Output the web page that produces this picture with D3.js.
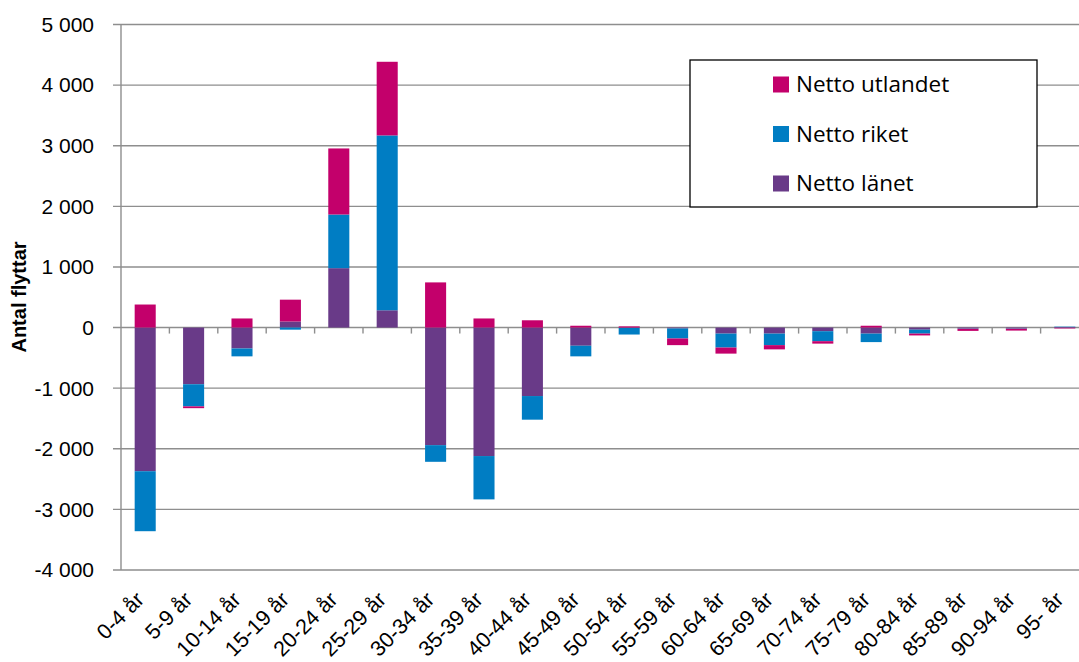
<!DOCTYPE html>
<html><head><meta charset="utf-8">
<script src="https://cdn.jsdelivr.net/npm/d3@7"></script>
<style>body{margin:0;background:#fff}svg{display:block}text{font-family:"Liberation Sans",Arial,sans-serif}</style>
</head><body>
<svg id="c" width="1079" height="662"></svg>
<script>
const categories = ["0-4 år","5-9 år","10-14 år","15-19 år","20-24 år","25-29 år","30-34 år","35-39 år","40-44 år","45-49 år","50-54 år","55-59 år","60-64 år","65-69 år","70-74 år","75-79 år","80-84 år","85-89 år","90-94 år","95- år"];
const nettoLanet    = [-2370,-935,-345,100,980,285,-1940,-2120,-1130,-300,-5,-15,-100,-100,-60,-100,-35,-15,-15,0];
const nettoRiket    = [-990,-365,-130,-35,885,2885,-275,-715,-390,-175,-110,-165,-230,-190,-165,-140,-65,-5,-5,15];
const nettoUtlandet = [380,-30,150,360,1090,1215,745,150,120,30,20,-110,-100,-70,-40,30,-30,-35,-30,-15];
const yTicks = [-4000,-3000,-2000,-1000,0,1000,2000,3000,4000,5000];
const seriesNames = ["Netto länet","Netto riket","Netto utlandet"];
const colors = {"Netto länet":"#693a88","Netto riket":"#007dc3","Netto utlandet":"#c3006b"};
const legendOrder = ["Netto utlandet","Netto riket","Netto länet"];

const rows = categories.map((c,i)=>({cat:c,"Netto länet":nettoLanet[i],"Netto riket":nettoRiket[i],"Netto utlandet":nettoUtlandet[i]}));

const svg = d3.select("#c");
const L = 121, R = 1089;
const y = d3.scaleLinear().domain([-4000,5000]).range([570,24.5]);
const x = d3.scaleBand().domain(categories).range([L,R]).paddingInner(0.565).paddingOuter(0.2825);
const fmt = v => d3.format(",")(v).replace(/,/g," ").replace("−","-");

// gridlines
svg.append("g").selectAll("line").data(yTicks).join("line")
  .attr("x1",L-8).attr("x2",R).attr("y1",d=>y(d)).attr("y2",d=>y(d))
  .attr("stroke","#8e8e8e").attr("stroke-width",1.4);
// y axis line
svg.append("line").attr("x1",L).attr("x2",L).attr("y1",y(5000)).attr("y2",y(-4000))
  .attr("stroke","#8e8e8e").attr("stroke-width",1.4);
// y labels
svg.append("g").selectAll("text").data(yTicks).join("text")
  .attr("x",94).attr("y",d=>y(d)).attr("dy","0.35em").attr("text-anchor","end")
  .attr("font-size",21).attr("fill","#000").text(d=>fmt(d));
// y title
svg.append("text").attr("transform",`translate(26,297) rotate(-90)`)
  .attr("text-anchor","middle").attr("font-size",20).attr("font-weight","bold").text("Antal flyttar");

// bars
const stack = d3.stack().keys(seriesNames).offset(d3.stackOffsetDiverging);
const stacked = stack(rows);
svg.append("g").selectAll("g").data(stacked).join("g")
  .attr("fill",d=>colors[d.key])
  .selectAll("rect").data(d=>d).join("rect")
  .attr("x",d=>x(d.data.cat)).attr("width",x.bandwidth())
  .attr("y",d=>y(Math.max(d[0],d[1]))).attr("height",d=>Math.abs(y(d[0])-y(d[1])));

// x tick marks
const step = x.step();
svg.append("g").selectAll("line").data(d3.range(1,categories.length+1)).join("line")
  .attr("x1",k=>L+k*step).attr("x2",k=>L+k*step).attr("y1",y(0)).attr("y2",y(0)+6)
  .attr("stroke","#8e8e8e").attr("stroke-width",1.4);
// x labels
svg.append("g").selectAll("text").data(categories).join("text")
  .attr("transform",d=>`translate(${x(d)+x.bandwidth()/2},${601}) rotate(-45)`)
  .attr("text-anchor","end").attr("font-size",21.5).text(d=>d);

// legend
const lg = svg.append("g");
lg.append("rect").attr("x",690).attr("y",60).attr("width",347).attr("height",147)
  .attr("fill","#fff").attr("stroke","#000").attr("stroke-width",1.3);
legendOrder.forEach((k,i)=>{
  const cy = 84.5 + i*49.5;
  lg.append("rect").attr("x",773).attr("y",cy-8).attr("width",16).attr("height",16).attr("fill",colors[k]);
  lg.append("text").attr("x",796).attr("y",cy).attr("dy","0.35em").attr("font-size",22.5)
    .style("font-family","'Open Sans',sans-serif").text(k);
});
</script>
</body></html>
